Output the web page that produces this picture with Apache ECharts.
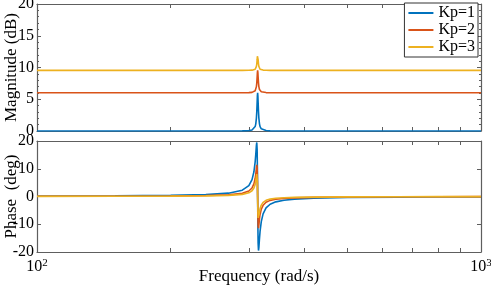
<!DOCTYPE html>
<html>
<head>
<meta charset="utf-8">
<script src="https://cdn.jsdelivr.net/npm/echarts@6/dist/echarts.min.js"></script>
<style>
  html, body { margin: 0; padding: 0; background: #fff; }
  #chart { width: 491px; height: 286px; }
</style>
</head>
<body>
<div id="chart"></div>
<script>
// frequency samples (rad/s), dense around the 314 rad/s resonance
var freq = [100, 150, 200, 240, 270, 290, 300, 305, 308, 310, 311, 312, 312.6, 313.2, 313.6, 314,
  314.4, 314.8, 315.4, 316, 317, 318, 320, 323, 328, 335, 345, 360, 380, 420, 500, 650, 800, 1000];

// magnitude (dB)
var mag1 = [0, 0, 0, 0, 0.01, 0.02, 0.06, 0.15, 0.33, 0.70, 1.13, 2.03, 3.03, 4.51, 5.55, 6.02,
  5.55, 4.51, 3.03, 2.03, 1.13, 0.70, 0.34, 0.16, 0.07, 0.02, 0.01, 0, 0, 0, 0, 0, 0, 0];
var mag2 = [6.02, 6.02, 6.02, 6.02, 6.02, 6.03, 6.05, 6.08, 6.16, 6.33, 6.53, 6.99, 7.55, 8.48, 9.20, 9.54,
  9.20, 8.48, 7.55, 6.99, 6.53, 6.33, 6.17, 6.09, 6.05, 6.03, 6.02, 6.02, 6.02, 6.02, 6.02, 6.02, 6.02, 6.02];
var mag3 = [9.54, 9.54, 9.54, 9.54, 9.54, 9.54, 9.56, 9.58, 9.63, 9.73, 9.87, 10.17, 10.55, 11.23, 11.77, 12.04,
  11.77, 11.23, 10.55, 10.17, 9.87, 9.73, 9.63, 9.59, 9.56, 9.55, 9.54, 9.54, 9.54, 9.54, 9.54, 9.54, 9.54, 9.54];

// phase (deg)
var ph1 = [0.13, 0.23, 0.39, 0.67, 1.20, 2.28, 3.95, 6.10, 8.90, 12.47, 15.21, 18.42, 19.47, 16.87, 10.49, 0,
  -10.49, -16.87, -19.47, -18.42, -15.21, -12.47, -9.05, -6.27, -4.13, -2.80, -1.93, -1.33, -0.95, -0.62, -0.38, -0.23, -0.17, -0.13];
var ph2 = [0.07, 0.11, 0.20, 0.34, 0.60, 1.14, 1.98, 3.08, 4.53, 6.48, 8.10, 10.29, 11.44, 10.59, 6.87, 0,
  -6.87, -10.59, -11.44, -10.29, -8.10, -6.48, -4.61, -3.17, -2.07, -1.40, -0.97, -0.66, -0.48, -0.31, -0.19, -0.11, -0.09, -0.06];
var ph3 = [0.04, 0.08, 0.13, 0.22, 0.40, 0.76, 1.32, 2.06, 3.04, 4.37, 5.51, 7.12, 8.06, 7.70, 5.10, 0,
  -5.10, -7.70, -8.06, -7.12, -5.51, -4.37, -3.09, -2.12, -1.38, -0.94, -0.64, -0.44, -0.32, -0.21, -0.13, -0.08, -0.06, -0.04];

var names = ['Kp=1', 'Kp=2', 'Kp=3'];
var colors = ['#0072BD', '#D95319', '#EDB120'];
var xTicks = [100, 200, 300, 400, 500, 600, 700, 800, 900, 1000];
var xLabels = [100, 1000];

function pairs(xs, ys) {
  return xs.map(function (x, i) { return [x, ys[i]]; });
}

var font = 'Liberation Serif';
var frame = '#5e5e5e';

function xAxis(grid, pos, labels) {
  return {
    type: 'log', logBase: 10, min: 100, max: 1000, gridIndex: grid, position: pos,
    axisLine: { show: true, onZero: false, lineStyle: { color: frame, width: 1.2 } },
    axisTick: { show: true, inside: true, length: 4, customValues: xTicks, lineStyle: { color: frame } },
    axisLabel: labels ? {
      show: true, customValues: xLabels, margin: 6, color: '#000',
      formatter: function (v) { return '{b|10}{s|' + Math.round(Math.log10(v)) + '}'; },
      rich: {
        b: { fontFamily: font, fontSize: 16, color: '#000', lineHeight: 18 },
        s: { fontFamily: font, fontSize: 11, color: '#000', verticalAlign: 'top', lineHeight: 11 }
      }
    } : { show: false },
    splitLine: { show: false },
    minorTick: { show: false },
    name: labels ? 'Frequency (rad/s)' : '',
    nameLocation: 'middle', nameGap: 16, nameMoveOverlap: false,
    nameTextStyle: { fontFamily: font, fontSize: 17, color: '#000' }
  };
}

function yAxis(grid, pos, min, max, step, minor, labels, name) {
  return {
    type: 'value', min: min, max: max, interval: step, gridIndex: grid, position: pos,
    axisLine: { show: true, lineStyle: { color: frame, width: 1.2 } },
    axisTick: { show: true, inside: true, length: 4, lineStyle: { color: frame } },
    minorTick: { show: minor, splitNumber: 5, length: 2, lineStyle: { color: frame } },
    axisLabel: { show: labels, margin: 3, fontFamily: font, fontSize: 16, color: '#000' },
    splitLine: { show: false },
    name: name, nameLocation: 'middle', nameGap: 17, nameMoveOverlap: false,
    nameTextStyle: { fontFamily: font, fontSize: 17, color: '#000' }
  };
}

function line(i, ys, xi, yi) {
  return {
    name: names[i], type: 'line', xAxisIndex: xi, yAxisIndex: yi,
    data: pairs(freq, ys), showSymbol: false, symbol: 'none', smooth: false,
    lineStyle: { color: colors[i], width: 1.6 }, itemStyle: { color: colors[i] },
    animation: false
  };
}

var chart = echarts.init(document.getElementById('chart'), null, { renderer: 'canvas' });
chart.setOption({
  animation: false,
  backgroundColor: '#fff',
  grid: [
    { left: 37, right: 10, top: 4, height: 127, outerBoundsMode: 'none', containLabel: false },
    { left: 37, right: 10, top: 141, height: 111, outerBoundsMode: 'none', containLabel: false }
  ],
  legend: {
    data: names, orient: 'vertical', right: 13, top: 3,
    icon: 'rect', itemWidth: 25, itemHeight: 2, itemGap: 1,
    backgroundColor: '#fff', borderColor: '#333', borderWidth: 1,
    padding: [2, 3, 2, 4],
    textStyle: { fontFamily: font, fontSize: 16, color: '#000', lineHeight: 16 }
  },
  xAxis: [
    xAxis(0, 'bottom', false), xAxis(0, 'top', false),
    xAxis(1, 'bottom', true), xAxis(1, 'top', false)
  ],
  yAxis: [
    yAxis(0, 'left', 0, 20, 5, true, true, 'Magnitude (dB)'), yAxis(0, 'right', 0, 20, 5, true, false, ''),
    yAxis(1, 'left', -20, 20, 10, false, true, 'Phase  (deg)'), yAxis(1, 'right', -20, 20, 10, false, false, '')
  ],
  series: [
    line(0, mag1, 0, 0), line(1, mag2, 0, 0), line(2, mag3, 0, 0),
    line(0, ph1, 2, 2), line(1, ph2, 2, 2), line(2, ph3, 2, 2)
  ]
});
</script>
</body>
</html>
